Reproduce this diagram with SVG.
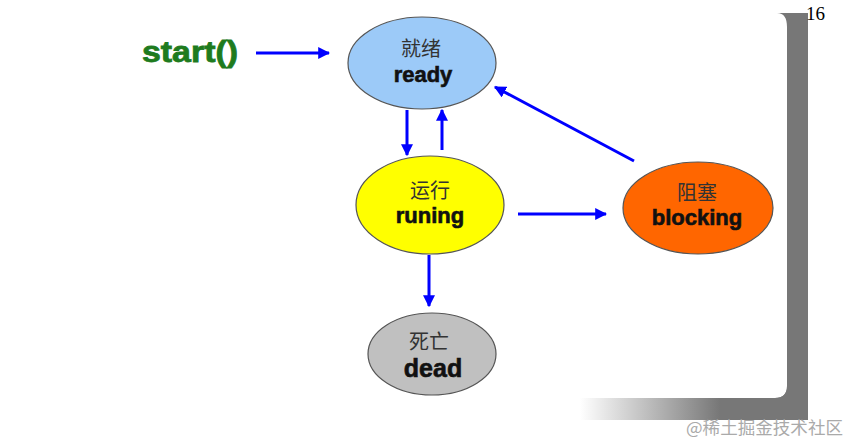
<svg xmlns="http://www.w3.org/2000/svg" width="851" height="445" viewBox="0 0 851 445">
<defs>
<style>
.node{stroke:#555;stroke-width:1.2}
.cn{font-family:"Noto Sans CJK SC","Noto Sans",sans-serif;font-size:20px;fill:#333;text-anchor:middle}
.en{font-family:"Liberation Sans",Arial,sans-serif;font-size:22px;font-weight:bold;fill:#111;stroke:#111;stroke-width:0.6;text-anchor:middle}
.edge{stroke:#0000ff;stroke-width:3;fill:none;marker-end:url(#ah)}
</style>
<marker id="ah" viewBox="0 0 10 10" refX="9" refY="5" markerWidth="4" markerHeight="4" orient="auto" markerUnits="strokeWidth">
<path d="M0,0 L10,5 L0,10 Z" fill="#0000ff"/>
</marker>
<linearGradient id="fade" x1="580" y1="0" x2="720" y2="0" gradientUnits="userSpaceOnUse">
<stop offset="0" stop-color="#777" stop-opacity="0"/>
<stop offset="1" stop-color="#777"/>
</linearGradient>
</defs>
<rect width="851" height="445" fill="#fff"/>
<g id="frame">
<path d="M777,13 L808,13 L808,398 L787,398 L787,27 C787,18 784,13 777,13 Z" fill="#777"/>
<path d="M580,398 L775,398 Q787,398 787,386 L787,398 L808,398 L808,420 L580,420 Z" fill="url(#fade)"/>
<rect x="720" y="398" width="88" height="22" fill="#777"/>
<path d="M775,398 Q787,398 787,386 L787,398 Z" fill="#777"/>
</g>
<text x="806" y="20" font-family="Liberation Serif,serif" font-size="19" fill="#000">16</text>
<g id="start">
<text x="142" y="62" font-family="Liberation Sans,Arial,sans-serif" font-size="30" font-weight="bold" fill="#1e7b1e" stroke="#1e7b1e" stroke-width="0.8" textLength="96" lengthAdjust="spacingAndGlyphs">start()</text>
</g>
<g id="ready">
<ellipse class="node" cx="422" cy="63" rx="74" ry="46" fill="#9ccaf8"/>
<text class="cn" x="421" y="56">就绪</text>
<text class="en" x="423" y="82">ready</text>
</g>
<g id="running">
<ellipse class="node" cx="430" cy="205" rx="74" ry="49" fill="#ffff00"/>
<text class="cn" x="430" y="198">运行</text>
<text class="en" x="430" y="223">runing</text>
</g>
<g id="blocking">
<ellipse class="node" cx="698" cy="208" rx="75" ry="46" fill="#ff6600"/>
<text class="cn" x="697" y="200">阻塞</text>
<text class="en" x="697" y="225">blocking</text>
</g>
<g id="dead">
<ellipse class="node" cx="432" cy="354" rx="64" ry="41" fill="#c0c0c0"/>
<text class="cn" x="429" y="349">死亡</text>
<text class="en" x="433" y="377" style="font-size:25px">dead</text>
</g>
<g id="connectors">
<line class="edge" x1="256" y1="53" x2="329" y2="53"/>
<line class="edge" x1="407" y1="110" x2="407" y2="155"/>
<line class="edge" x1="442" y1="150" x2="442" y2="110"/>
<line class="edge" x1="429" y1="255" x2="429" y2="306"/>
<line class="edge" x1="518" y1="214" x2="606" y2="214"/>
<line class="edge" x1="634" y1="161" x2="495" y2="87"/>
</g>
<text x="686" y="434" font-family="Noto Sans CJK SC,sans-serif" font-size="17" fill="#aaa" textLength="157" lengthAdjust="spacingAndGlyphs">@稀土掘金技术社区</text>
</svg>
